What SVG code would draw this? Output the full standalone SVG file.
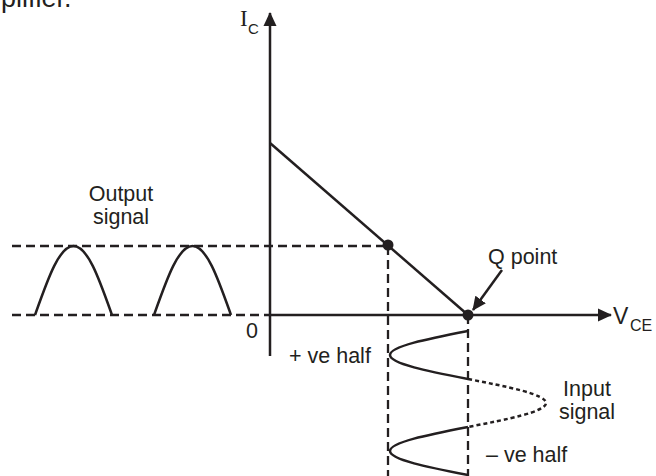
<svg xmlns="http://www.w3.org/2000/svg" width="656" height="476" viewBox="0 0 656 476">
<style>
.t{font-family:"Liberation Sans",Arial,sans-serif;font-size:21.5px;fill:#231f20}
.s{font-family:"Liberation Serif","Times New Roman",serif;fill:#231f20}
.ln{stroke:#231f20;stroke-width:2.5;fill:none}
.da{stroke:#231f20;stroke-width:2.3;fill:none;stroke-dasharray:9 5}
.dt{stroke:#231f20;stroke-width:2.5;fill:none;stroke-dasharray:4 3}
.dot{fill:#231f20}
</style>
<defs>
<marker id="ah" markerWidth="14" markerHeight="14" refX="13" refY="7" orient="auto" markerUnits="userSpaceOnUse">
<path d="M0,0.5 L14,7 L0,13.5 Z" fill="#231f20"/>
</marker>
</defs>
<rect width="656" height="476" fill="#fff"/>
<text class="t" x="1" y="7" style="font-size:27px">plifier.</text>

<g id="connectors">
<line id="y-axis" class="ln" x1="270" y1="356" x2="270" y2="13" marker-end="url(#ah)"/>
<line id="x-axis" class="ln" x1="270" y1="315" x2="611" y2="315" marker-end="url(#ah)"/>
<line id="load-line" class="ln" x1="270" y1="143" x2="468" y2="315"/>
<line class="da" x1="12" y1="246" x2="388" y2="246"/>
<line class="da" x1="12" y1="315" x2="270" y2="315"/>
<line class="da" x1="388" y1="246" x2="388" y2="476"/>
<line class="da" x1="468" y1="315" x2="468" y2="476"/>
<line class="ln" x1="502" y1="270" x2="473" y2="310" marker-end="url(#ah)"/>
</g>

<g id="output-signal">
<path class="ln" d="M35,315 C47.55,279.7 59.06,246 73.5,246 C87.94,246 99.45,279.7 112,315"/>
<path class="ln" d="M154,315 C166.55,279.7 178.06,246 192.5,246 C206.94,246 218.45,279.7 231,315"/>
<text class="t" x="121" y="201" text-anchor="middle">Output</text>
<text class="t" x="121" y="224" text-anchor="middle">signal</text>
</g>

<g id="input-signal">
<path class="ln" d="M468,331 C428,338.8 390,346.3 390,355 C390,363.7 428,371.2 468,379"/>
<path class="dt" d="M468,379 C508,386.8 546,394.3 546,403 C546,411.7 508,419.2 468,427"/>
<path class="ln" d="M468,427 C428,434.8 390,442.3 390,451 C390,459.7 428,467.2 468,475"/>
<text class="t" x="587" y="396" text-anchor="middle">Input</text>
<text class="t" x="587" y="419" text-anchor="middle">signal</text>
<text class="t" x="289" y="363">+ ve half</text>
<text class="t" x="486" y="462">– ve half</text>
</g>

<g id="points">
<circle class="dot" cx="388" cy="245" r="5.5"/>
<circle id="q-point" class="dot" cx="468" cy="315" r="5.5"/>
<text class="t" x="488" y="264">Q point</text>
</g>

<g id="labels">
<text class="s" x="240" y="26" style="font-size:23px">I</text>
<text class="t" x="248" y="34" style="font-size:15px">C</text>
<text class="t" x="613" y="324" style="font-size:23px">V</text>
<text class="t" x="630" y="331" style="font-size:16px">CE</text>
<text class="t" x="246" y="338">0</text>
</g>
</svg>
